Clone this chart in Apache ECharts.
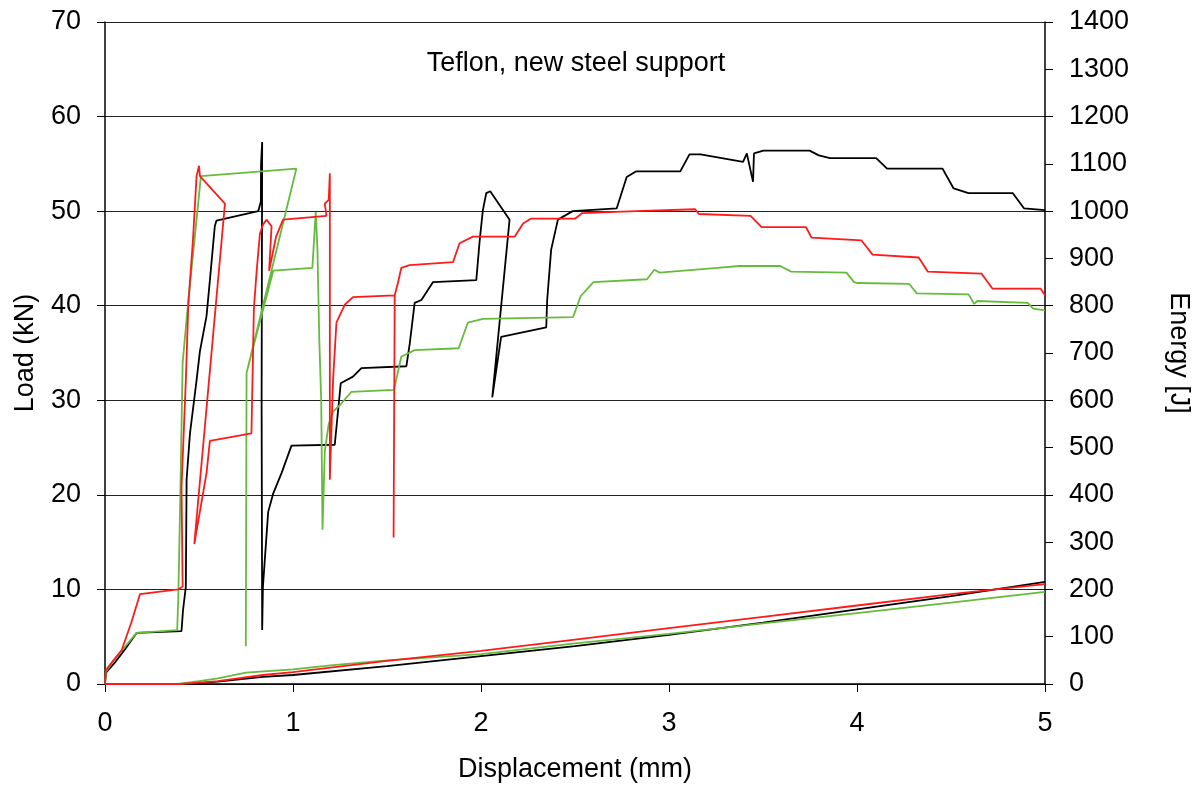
<!DOCTYPE html>
<html>
<head>
<meta charset="utf-8">
<script src="https://cdn.jsdelivr.net/npm/echarts@6/dist/echarts.min.js"></script>
<style>
  html, body { margin: 0; padding: 0; background: #fff; }
  #chart { width: 1200px; height: 788px; }
</style>
</head>
<body>
<div id="chart"></div>
<script>
// load curves [displacement mm, load kN]
var blackLoad = [[0,0],[0.005,1.2],[0.05,2.2],[0.1,3.5],[0.168,5.4],[0.407,5.6],[0.415,7.8],[0.43,10.3],[0.434,21.6],[0.452,26.5],[0.487,32.1],[0.505,35.2],[0.54,38.9],[0.558,42.7],[0.584,48.4],[0.593,49.0],[0.815,50.0],[0.829,51.0],[0.83,55],[0.836,57.3],[0.833,30],[0.836,5.7],[0.84,10.3],[0.868,18.2],[0.894,20.1],[0.939,22.3],[0.992,25.2],[1.222,25.3],[1.254,31.8],[1.319,32.5],[1.364,33.4],[1.603,33.6],[1.621,36.0],[1.647,40.3],[1.683,40.6],[1.745,42.5],[1.975,42.7],[1.993,46.9],[2.01,50.1],[2.028,51.9],[2.049,52.1],[2.152,49.1],[2.06,30.3],[2.107,36.7],[2.347,37.7],[2.352,40.6],[2.373,45.9],[2.409,49.1],[2.488,50.0],[2.722,50.3],[2.775,53.6],[2.824,54.2],[3.06,54.2],[3.109,56.0],[3.168,56.0],[3.394,55.2],[3.414,56.1],[3.447,53.1],[3.452,56.1],[3.502,56.4],[3.748,56.4],[3.797,55.9],[3.856,55.6],[4.102,55.6],[4.16,54.5],[4.22,54.5],[4.455,54.5],[4.514,52.4],[4.593,51.9],[4.829,51.9],[4.888,50.3],[5.0,50.1]];
var greenLoad = [[0,0],[0.005,1.3],[0.05,2.6],[0.1,3.8],[0.168,5.4],[0.384,5.7],[0.39,9.2],[0.40,19.3],[0.413,34.0],[0.443,40.5],[0.487,49.1],[0.51,53.7],[1.018,54.5],[0.753,32.9],[0.749,4.0],[0.753,32.9],[0.895,43.7],[1.103,44.0],[1.121,49.9],[1.13,46],[1.135,41],[1.14,36.3],[1.15,30],[1.157,16.3],[1.169,24.6],[1.19,27.5],[1.213,28.8],[1.25,29.5],[1.311,30.9],[1.537,31.1],[1.576,34.6],[1.647,35.3],[1.881,35.5],[1.93,38.2],[2.01,38.6],[2.49,38.8],[2.53,41.0],[2.598,42.5],[2.883,42.8],[2.922,43.8],[2.95,43.5],[3.257,44.0],[3.374,44.2],[3.591,44.2],[3.65,43.6],[3.944,43.5],[3.984,42.5],[4.004,42.4],[4.278,42.3],[4.318,41.3],[4.593,41.2],[4.623,40.2],[4.64,40.5],[4.908,40.3],[4.937,39.7],[5.0,39.5]];
var redLoad = [[0,0],[0.005,1.5],[0.05,2.6],[0.089,3.6],[0.14,6.5],[0.186,9.5],[0.39,10.0],[0.413,10.3],[0.407,20.8],[0.43,32.1],[0.443,40.1],[0.469,47.3],[0.487,53.7],[0.5,54.8],[0.505,53.7],[0.638,50.8],[0.475,14.8],[0.54,22.3],[0.558,25.7],[0.779,26.5],[0.792,39.7],[0.806,43.5],[0.824,47.6],[0.841,48.6],[0.859,49.1],[0.886,48.4],[0.873,43.7],[0.91,47.3],[0.947,49.1],[1.178,49.5],[1.169,50.8],[1.19,51.2],[1.196,54.0],[1.196,21.6],[1.213,32.1],[1.231,38.2],[1.275,40.1],[1.319,40.9],[1.541,41.1],[1.535,15.5],[1.541,41.1],[1.558,42.4],[1.576,44.0],[1.62,44.3],[1.851,44.6],[1.886,46.6],[1.957,47.3],[2.179,47.3],[2.224,48.7],[2.264,49.2],[2.5,49.2],[2.539,49.8],[2.824,50.0],[3.139,50.2],[3.159,49.7],[3.434,49.5],[3.493,48.3],[3.729,48.3],[3.758,47.2],[4.024,46.9],[4.083,45.4],[4.328,45.1],[4.377,43.6],[4.662,43.4],[4.721,41.8],[4.977,41.8],[5.0,41.1]];

// energy curves [displacement mm, energy J]
var blackEnergy = [[0,0],[0.4,0],[0.5,2],[0.6,5],[0.84,15],[1,19],[1.5,38],[2,59],[2.5,80],[3,104],[3.5,130],[4,158],[4.5,186],[5,216]];
var greenEnergy = [[0,0],[0.39,0],[0.5,6],[0.6,12],[0.75,24],[1,31],[1.213,40],[1.5,50],[2,63],[2.5,86],[3,106],[3.5,128],[4,150],[4.5,172],[5,195]];
var redEnergy = [[0,0],[0.4,0],[0.5,3],[0.6,6],[0.84,19],[1,25],[1.5,49],[2,70],[2.5,94],[3,118],[3.5,142],[4,166],[4.5,190],[5,211]];

var titleText = 'Teflon, new steel support';
var font = 'Liberation Sans, Arial, sans-serif';

var chart = echarts.init(document.getElementById('chart'));

function line(data, color, yIdx) {
  return {
    type: 'line',
    data: data,
    yAxisIndex: yIdx,
    showSymbol: false,
    symbol: 'none',
    animation: false,
    lineStyle: { color: color, width: 1.8 }
  };
}

var option = {
  backgroundColor: '#fff',
  animation: false,
  title: {
    text: titleText,
    left: 571, top: 45, textAlign: 'center',
    textStyle: { fontFamily: font, fontSize: 27, fontWeight: 'normal', color: '#000' }
  },
  grid: { left: 105, right: 154, top: 22, bottom: 104 },
  xAxis: {
    type: 'value', min: 0, max: 5, interval: 1,
    name: 'Displacement (mm)', nameLocation: 'middle', nameGap: 72,
    nameTextStyle: { fontFamily: font, fontSize: 27, color: '#000' },
    axisLine: { lineStyle: { color: '#000', width: 1.5 } },
    axisTick: { length: 8, lineStyle: { color: '#000' } },
    axisLabel: { fontFamily: font, fontSize: 27, color: '#000', margin: 26 },
    splitLine: { show: false }
  },
  yAxis: [
    {
      type: 'value', min: 0, max: 70, interval: 10,
      name: 'Load (kN)', nameLocation: 'middle', nameGap: 66,
      nameTextStyle: { fontFamily: font, fontSize: 27, color: '#000' },
      axisLine: { show: true, lineStyle: { color: '#000', width: 1.5 } },
      axisTick: { show: true, length: 8, lineStyle: { color: '#000' } },
      axisLabel: { fontFamily: font, fontSize: 27, color: '#000', margin: 24 },
      splitLine: { show: true, lineStyle: { color: '#222', width: 1 } }
    },
    {
      type: 'value', min: 0, max: 1400, interval: 100, position: 'right',
      name: 'Energy [J]', nameLocation: 'middle', nameGap: 120, nameRotate: -90,
      nameTextStyle: { fontFamily: font, fontSize: 27, color: '#000' },
      axisLine: { show: true, lineStyle: { color: '#000', width: 1.5 } },
      axisTick: { show: true, length: 8, lineStyle: { color: '#000' } },
      axisLabel: {
        fontFamily: font, fontSize: 27, color: '#000', margin: 24,
        formatter: function (v) { return String(v); }
      },
      splitLine: { show: false }
    }
  ],
  series: [
    line(blackEnergy, '#000000', 1),
    line(greenEnergy, '#66bb3c', 1),
    line(redEnergy, '#ff1a1a', 1),
    line(blackLoad, '#000000', 0),
    line(greenLoad, '#66bb3c', 0),
    line(redLoad, '#ff1a1a', 0)
  ]
};
chart.setOption(option);
</script>
</body>
</html>
